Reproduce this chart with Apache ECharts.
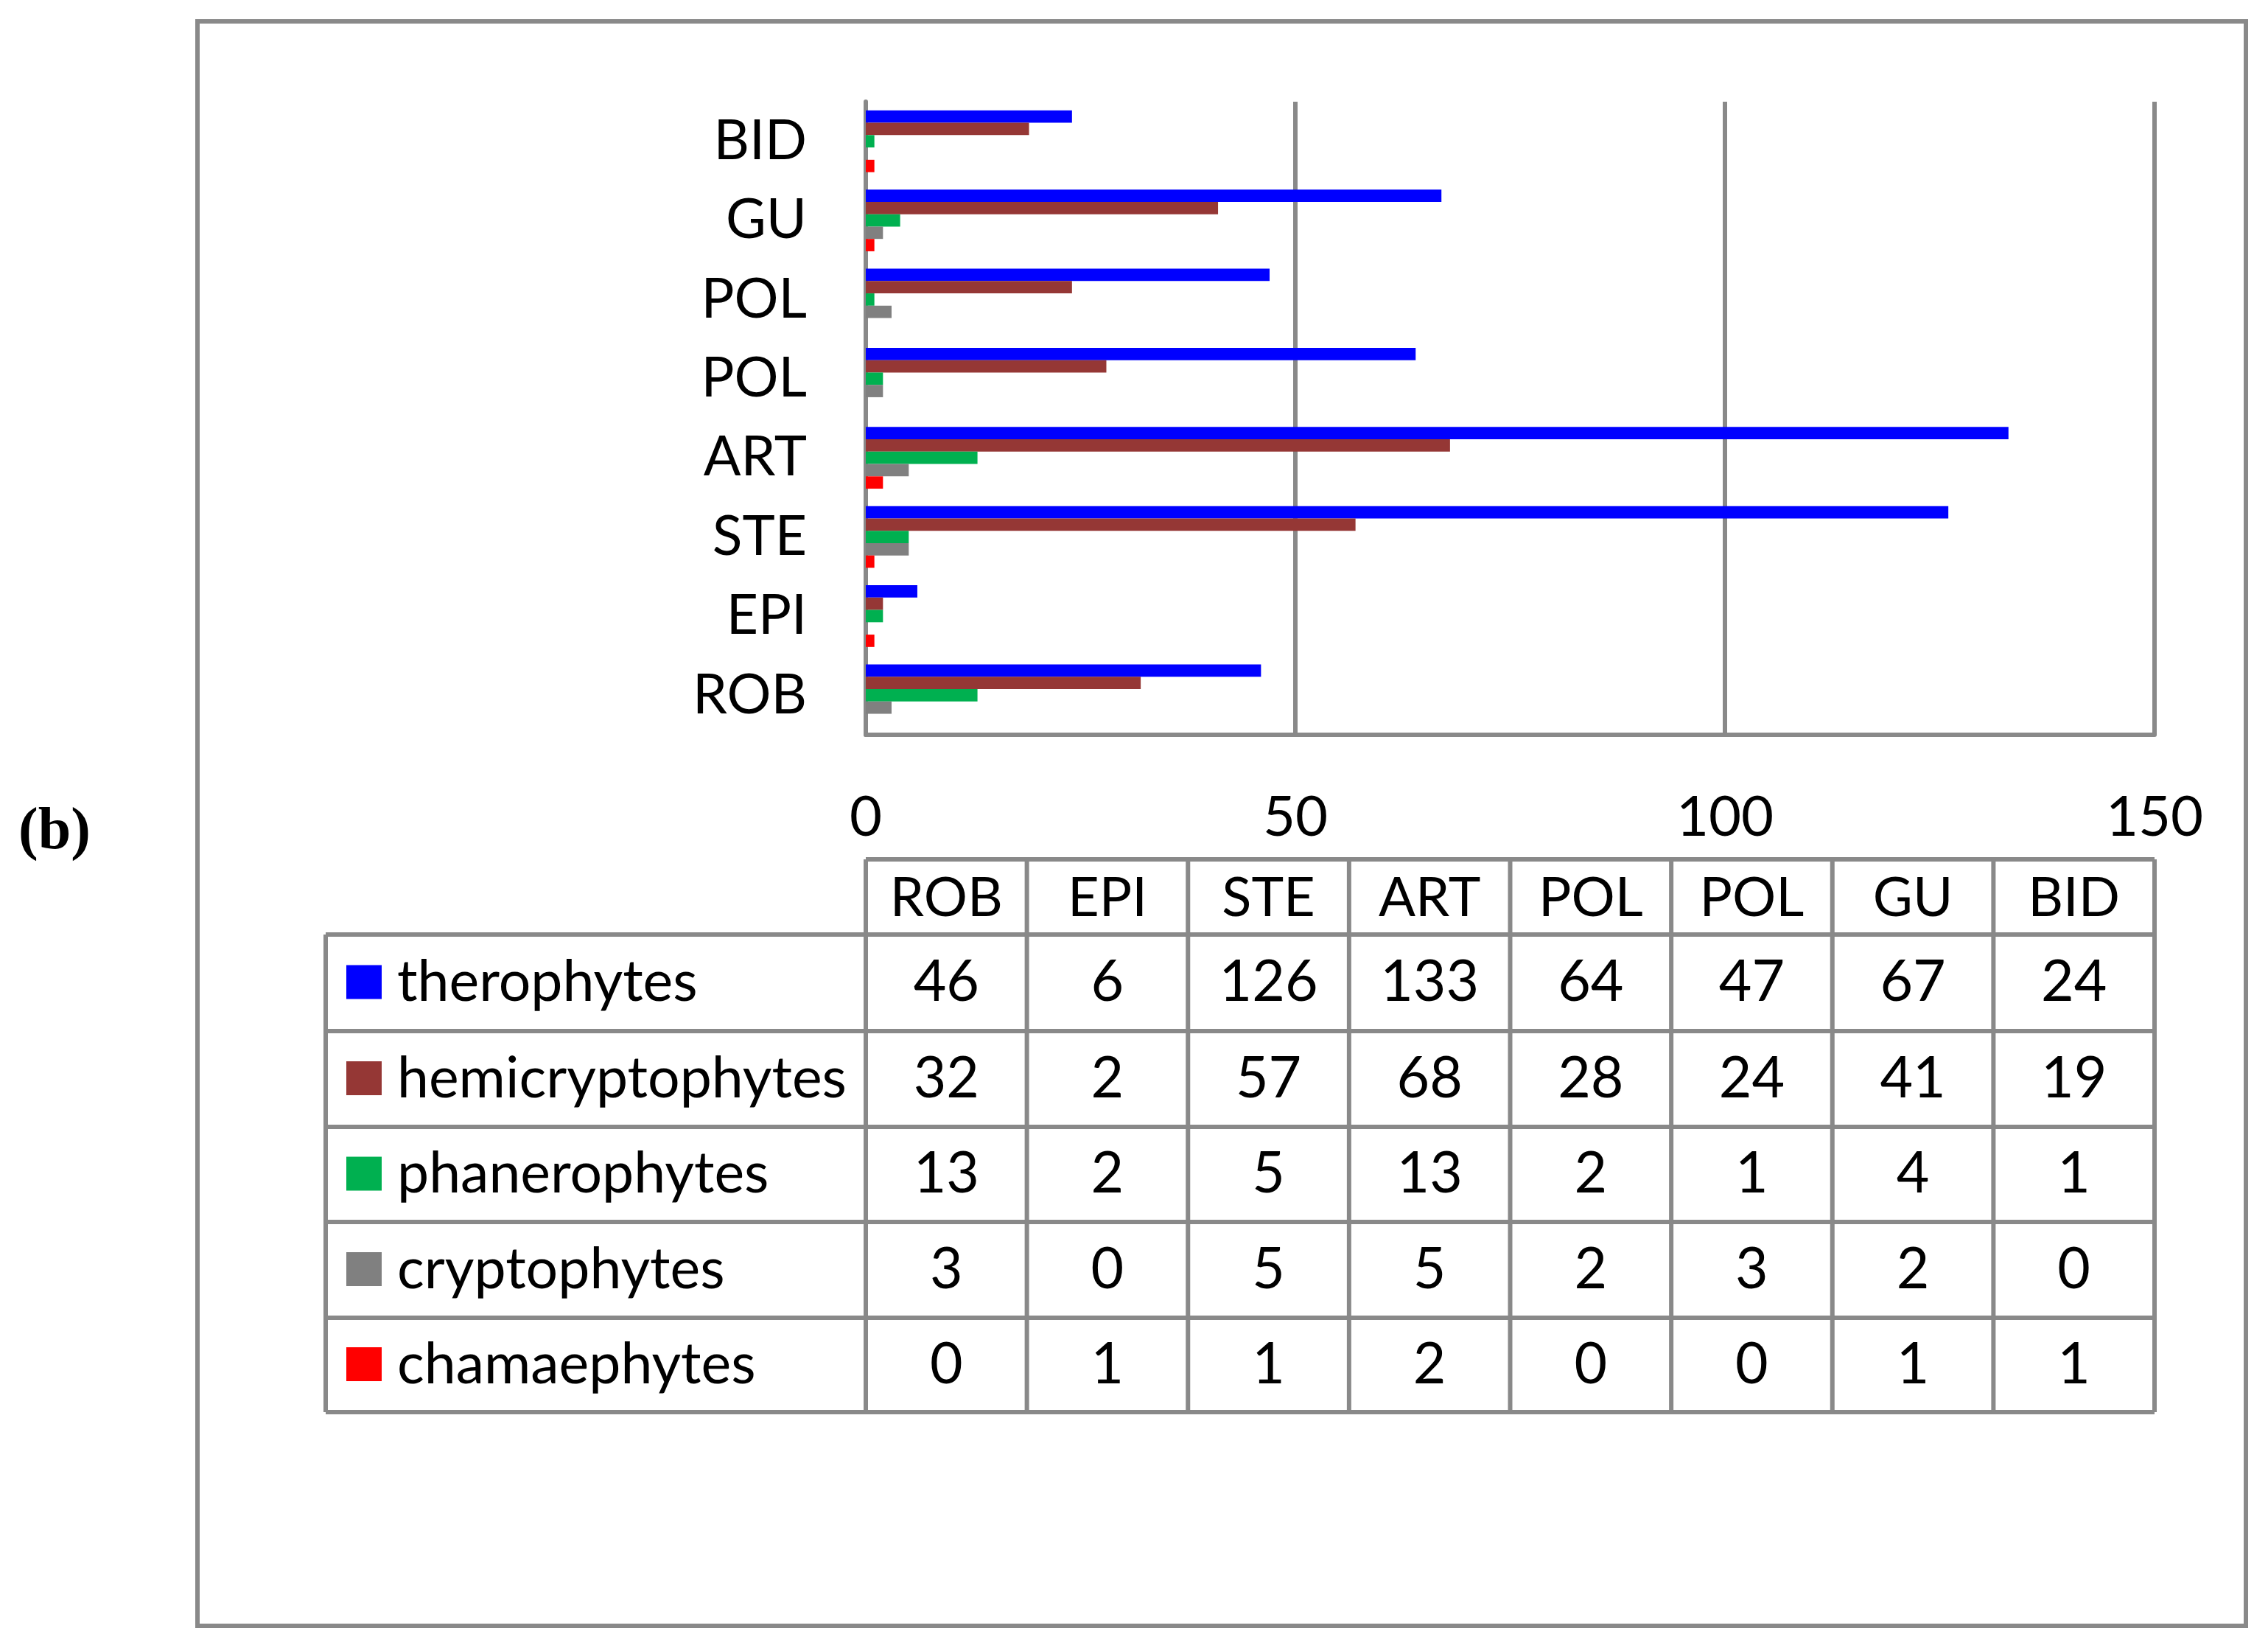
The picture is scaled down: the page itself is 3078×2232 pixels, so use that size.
<!DOCTYPE html>
<html><head><meta charset="utf-8">
<script src="https://cdn.jsdelivr.net/npm/echarts@6/dist/echarts.min.js"></script>
<style>html,body{margin:0;padding:0;background:#fff}#c{width:3078px;height:2232px}</style>
</head><body><div id="c"></div>
<script>
const categories = ['ROB','EPI','STE','ART','POL','POL','GU','BID'];
const seriesNames = ['therophytes','hemicryptophytes','phanerophytes','cryptophytes','chamaephytes'];
const therophytes = [46,6,126,133,64,47,67,24];
const hemicryptophytes = [32,2,57,68,28,24,41,19];
const phanerophytes = [13,2,5,13,2,1,4,1];
const cryptophytes = [3,0,5,5,2,3,2,0];
const chamaephytes = [0,1,1,2,0,0,1,1];
const xTicks = [0,50,100,150];
const colors = ['#0000FF','#953735','#00B050','#808080','#FF0000'];
const values = [therophytes,hemicryptophytes,phanerophytes,cryptophytes,chamaephytes];

const FONT = 'Lato, "Open Sans", sans-serif';
const GRAY = '#898989';
const G = {left:1175, top:138, width:1749, height:859};
const chart = echarts.init(document.getElementById('c'), null, {renderer:'canvas'});

const tableLeft = 442, headerTop = 1166;
const rowLines = [1268,1399,1529,1658,1788,1916];
const colW = G.width / categories.length;
const colX = categories.map((_, i) => G.left + i*colW).concat([G.left + G.width]);
const LW = 6;
const graphics = [];
graphics.push({type:'rect', shape:{x:268,y:29,width:2780,height:2177}, style:{fill:'none', stroke:GRAY, lineWidth:LW}, z:1});
graphics.push({type:'text', style:{text:'(b)', x:25, y:1130, fill:'#000', font:'bold 80px "Liberation Serif", serif', textAlign:'left', textVerticalAlign:'middle', align:'left', verticalAlign:'middle'}});
graphics.push({type:'line', shape:{x1:G.left, y1:headerTop, x2:G.left+G.width, y2:headerTop}, style:{stroke:GRAY, lineWidth:LW}});
rowLines.forEach(y => graphics.push({type:'line', shape:{x1:tableLeft, y1:y, x2:G.left+G.width, y2:y}, style:{stroke:GRAY, lineWidth:LW}}));
graphics.push({type:'line', shape:{x1:tableLeft, y1:rowLines[0], x2:tableLeft, y2:rowLines[rowLines.length-1]}, style:{stroke:GRAY, lineWidth:LW}});
colX.forEach(x => graphics.push({type:'line', shape:{x1:x, y1:headerTop, x2:x, y2:rowLines[rowLines.length-1]}, style:{stroke:GRAY, lineWidth:LW}}));
categories.forEach((c, i) => graphics.push({type:'text', style:{text:c, x:colX[i]+colW/2, y:(headerTop+rowLines[0])/2+2, fill:'#000', font:'74px '+FONT, textAlign:'center', textVerticalAlign:'middle', align:'center', verticalAlign:'middle'}}));
seriesNames.forEach((name, r) => {
  const yc = (rowLines[r]+rowLines[r+1])/2;
  graphics.push({type:'rect', shape:{x:470, y:yc-24, width:48, height:46}, style:{fill:colors[r]}});
  graphics.push({type:'text', style:{text:name, x:539, y:yc, fill:'#000', font:'77px '+FONT, textAlign:'left', textVerticalAlign:'middle', align:'left', verticalAlign:'middle'}});
  values[r].forEach((v, i) => graphics.push({type:'text', style:{text:String(v), x:colX[i]+colW/2, y:yc, fill:'#000', font:'77px '+FONT, textAlign:'center', textVerticalAlign:'middle', align:'center', verticalAlign:'middle'}}));
});

chart.setOption({
  animation:false,
  backgroundColor:'#fff',
  grid:{left:G.left, top:G.top, width:G.width, height:G.height, containLabel:false},
  xAxis:{type:'value', min:xTicks[0], max:xTicks[xTicks.length-1], interval:xTicks[1]-xTicks[0],
    axisLine:{show:true, lineStyle:{color:GRAY, width:LW}}, axisTick:{show:false},
    splitLine:{show:true, lineStyle:{color:GRAY, width:LW}},
    axisLabel:{color:'#000', fontSize:76, fontFamily:FONT, margin:74}},
  yAxis:{type:'category', data:categories,
    axisLine:{show:true, lineStyle:{color:GRAY, width:LW}}, axisTick:{show:false},
    axisLabel:{color:'#000', fontSize:75, fontFamily:FONT, margin:80}},
  series: seriesNames.map((n, k) => ({name:n, type:'bar', data:values[k], barGap:'0%', barCategoryGap:'22%', itemStyle:{color:colors[k]}, z:3})),
  graphic: graphics
});
</script></body></html>
